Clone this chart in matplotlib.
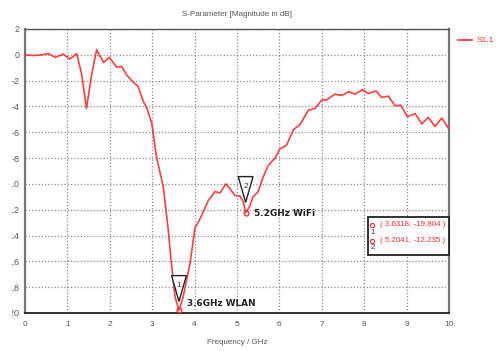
#!/usr/bin/env python3
"""
S11 magnitude plot with two markers (3.6 GHz WLAN / 5.2 GHz WiFi)
"""

import matplotlib
matplotlib.use("Agg")
import matplotlib.pyplot as plt
from matplotlib.patches import Polygon, Rectangle
from matplotlib.transforms import Bbox, TransformedBbox

# frequency (GHz) and |S11| (dB)
freq = [0.0, 0.2, 0.4, 0.55, 0.71, 0.9, 1.06, 1.22, 1.34, 1.45, 1.57, 1.69,
        1.85, 1.99, 2.16, 2.28, 2.40, 2.55, 2.67, 2.79, 2.87, 2.99, 3.10,
        3.26, 3.38, 3.46, 3.54, 3.6318, 3.73, 3.89, 4.01, 4.10, 4.20, 4.32,
        4.48, 4.60, 4.74, 4.83, 4.95, 5.07, 5.15, 5.2041, 5.29, 5.38, 5.50,
        5.62, 5.74, 5.90, 6.01, 6.17, 6.33, 6.49, 6.68, 6.84, 7.00, 7.11,
        7.31, 7.47, 7.64, 7.78, 7.96, 8.10, 8.28, 8.41, 8.57, 8.73, 8.86,
        9.02, 9.20, 9.36, 9.51, 9.67, 9.83, 10.0]
s11 = [0.0, -0.05, 0.0, 0.1, -0.2, 0.05, -0.33, 0.1, -1.57, -4.15, -1.57, 0.4,
       -0.6, -0.2, -0.95, -0.9, -1.57, -2.1, -2.47, -3.6, -4.1, -5.3, -7.9,
       -10.2, -13.6, -16.4, -18.75, -19.804, -18.75, -16.2, -13.4, -12.9, -12.2, -11.3,
       -10.6, -10.7, -10.0, -10.35, -10.9, -10.95, -11.4, -12.235, -11.8, -11.0, -10.6,
       -9.45, -8.55, -8.0, -7.3, -7.0, -5.8, -5.4, -4.3, -4.15, -3.5, -3.5,
       -3.05, -3.15, -2.85, -3.05, -2.7, -3.0, -2.8, -3.3, -3.2, -3.95, -3.9,
       -4.8, -4.55, -5.35, -4.85, -5.55, -4.9, -5.75]

marker_f = [3.6318, 5.2041]
marker_db = [-19.804, -12.235]
marker_ids = ['1', '2']
marker_names = ['3.6GHz WLAN', '5.2GHz WiFi']

yticks = [2, 0, -2, -4, -6, -8, -10, -12, -14, -16, -18, -20]
xticks = list(range(0, 11))

RED = '#ff2a2a'
GRID = '#8a8a8a'
TXT = '#555555'
FONT = 'Liberation Sans'


def main():
    W, H = 496.0, 351.0
    fig = plt.figure(figsize=(4.96, 3.51), dpi=100)
    ax = fig.add_axes([0.0504, 0.1083, 0.8548, 0.8091])

    ax.plot(freq, s11, color=RED, lw=1.2, alpha=0.9, zorder=3)
    ax.set_xlim(0, 10)
    ax.set_ylim(-20, 2)
    ax.set_xticks(xticks)
    ax.set_yticks(yticks)
    ax.set_xticklabels([str(x) for x in xticks], fontsize=6, color=TXT, family=FONT)
    ax.set_yticklabels([str(y) for y in yticks], fontsize=6.5, color=TXT, family=FONT)
    ax.tick_params(axis='both', length=0)
    ax.tick_params(axis='x', pad=6)
    ax.tick_params(axis='y', pad=4)

    # the source image is cut on the left, so the long labels lose their first chars
    clip = TransformedBbox(Bbox([[12 / W, 0], [1, 1]]), fig.transFigure)
    for lbl in ax.get_yticklabels():
        lbl.set_clip_box(clip)
        lbl.set_clip_on(True)

    ax.grid(True, color=GRID, ls=(0, (1, 1.6)), lw=0.9)
    ax.set_axisbelow(True)
    for side in ['left', 'right']:
        ax.spines[side].set_color('#777777')
        ax.spines[side].set_linewidth(1.6)
    ax.spines['top'].set_color('#555555')
    ax.spines['top'].set_linewidth(1.0)
    ax.spines['bottom'].set_color('#222222')
    ax.spines['bottom'].set_linewidth(1.3)

    # marker triangles with ids
    tri_half = 0.175
    tri_h = 2.0
    for f, db, mid, name, dy, ty in zip(marker_f, marker_db, marker_ids, marker_names,
                                        [0.7, 0.8], [0.53, -0.05]):
        apex = db + dy
        tri = Polygon([[f - tri_half, apex + tri_h], [f + tri_half, apex + tri_h],
                       [f, apex]], closed=True, facecolor='white',
                      edgecolor='#222222', lw=1.0, zorder=4)
        ax.add_patch(tri)
        ax.text(f, apex + tri_h * 0.62, mid, ha='center', va='center',
                fontsize=6, color='#333333', family=FONT, zorder=5)
        ax.plot([f], [db], marker='o', ms=3.5, mfc='none', mec=RED, mew=0.9,
                zorder=5)
        ax.text(f + 0.2, db + ty, name, ha='left', va='center',
                fontsize=6.4, fontweight='bold', color='#222222', zorder=5)

    ax.set_title('S-Parameter [Magnitude in dB]', fontsize=5.8, color=TXT,
                 family=FONT, pad=9)
    ax.set_xlabel('Frequency / GHz', fontsize=5.8, color=TXT, family=FONT,
                  labelpad=8)

    # legend entry on the right
    fig.add_artist(plt.Line2D([458 / W, 472 / W], [1 - 40 / H, 1 - 40 / H],
                              color=RED, lw=1.2))
    fig.text(477 / W, 1 - 40 / H, 'S1,1', color=RED, fontsize=6, family=FONT,
             ha='left', va='center')

    # marker readout box
    box = Rectangle((368 / W, 1 - 255 / H), 81 / W, 38 / H, transform=fig.transFigure,
                    facecolor='white', edgecolor='#222222', lw=1.3, zorder=6)
    fig.add_artist(box)
    for row_y, mid, f, db in zip([225, 240.5], marker_ids, marker_f, marker_db):
        fig.add_artist(plt.Line2D([372.3 / W], [1 - row_y / H], marker='o', ms=3,
                                  mfc='none', mec=RED, mew=0.8, zorder=7))
        fig.text(372.3 / W, 1 - (row_y + 7) / H, mid, fontsize=5.5, color='#333333',
                 family=FONT, ha='center', va='center', zorder=7)
        fig.text(380 / W, 1 - row_y / H, f'( {f:.4f}, {db:.3f} )', fontsize=5.7,
                 color=RED, family=FONT, ha='left', va='center', zorder=7)

    fig.savefig('out.png', dpi=100)


if __name__ == '__main__':
    main()
